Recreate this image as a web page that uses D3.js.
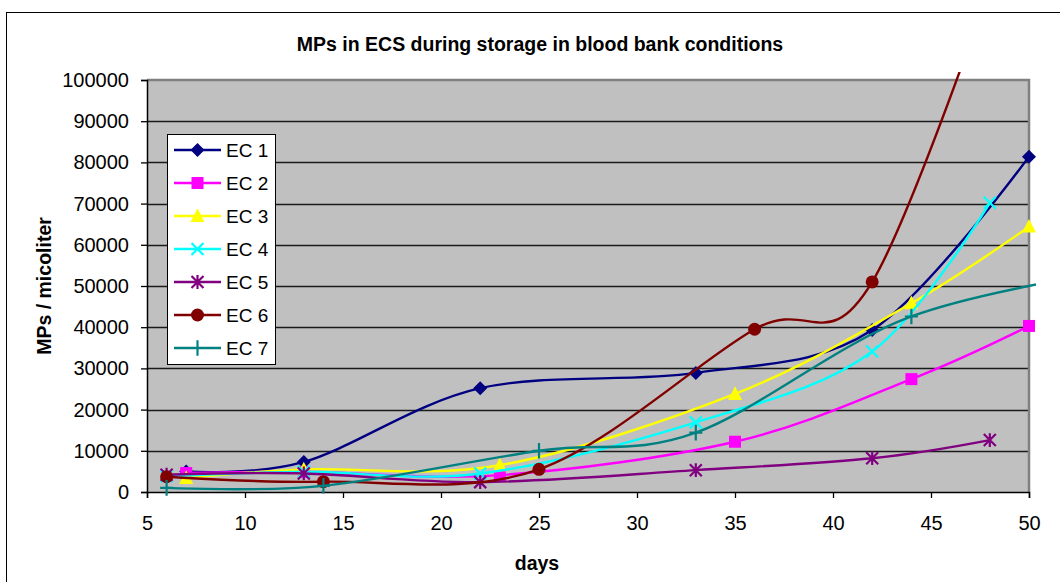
<!DOCTYPE html>
<html>
<head>
<meta charset="utf-8">
<script src="https://cdn.jsdelivr.net/npm/d3@7"></script>
<style>
  html, body { margin: 0; padding: 0; background: #fff; }
  svg { display: block; font-family: "Liberation Sans", Arial, sans-serif; }
</style>
</head>
<body>
<svg id="chart" width="1060" height="582"></svg>
<script>
// Series data: storage day and microparticle count per microliter
const seriesNames = ["EC 1", "EC 2", "EC 3", "EC 4", "EC 5", "EC 6", "EC 7"];
const ec1Days = [7, 13, 22, 33, 42, 50];
const ec1Values = [5000, 7300, 25200, 28900, 39300, 81400];
const ec2Days = [7, 13, 23, 35, 44, 50];
const ec2Values = [4600, 4900, 4100, 12200, 27400, 40300];
const ec3Days = [7, 13, 23, 35, 44, 50];
const ec3Values = [3400, 5500, 6500, 23800, 45800, 64400];
const ec4Days = [6, 13, 22, 33, 42, 48];
const ec4Values = [3800, 4900, 4500, 16900, 34100, 70200];
const ec5Days = [6, 13, 22, 33, 42, 48];
const ec5Values = [4200, 4500, 2400, 5300, 8200, 12600];
const ec6Days = [6, 14, 25, 36, 42, 50];
const ec6Values = [3700, 2500, 5500, 39500, 51000, 150000];
const ec7Days = [6, 14, 25, 33, 44, 56];
const ec7Values = [1000, 1500, 10000, 14400, 42600, 55000];

const xTicks = [5, 10, 15, 20, 25, 30, 35, 40, 45, 50];
const yTicks = [0, 10000, 20000, 30000, 40000, 50000, 60000, 70000, 80000, 90000, 100000];

const colors = ["#000080", "#FF00FF", "#FFFF00", "#00FFFF", "#800080", "#800000", "#008080"];
const markers = ["diamond", "square", "triangle", "cross", "star", "circle", "plus"];

const allDays = [ec1Days, ec2Days, ec3Days, ec4Days, ec5Days, ec6Days, ec7Days];
const allValues = [ec1Values, ec2Values, ec3Values, ec4Values, ec5Values, ec6Values, ec7Values];
const series = seriesNames.map((name, i) => ({
  name, color: colors[i], marker: markers[i],
  points: allDays[i].map((d, j) => ({ day: d, value: allValues[i][j] }))
}));

const svg = d3.select("#chart");
const plot = { left: 147, right: 1029, top: 80, bottom: 492 };

const x = d3.scaleLinear().domain([5, 50]).range([plot.left, plot.right]);
const y = d3.scaleLinear().domain([0, 100000]).range([plot.bottom, plot.top]);

// Outer chart frame
svg.append("rect")
  .attr("x", 6.5).attr("y", 12.5)
  .attr("width", 1100).attr("height", 600)
  .attr("fill", "#fff").attr("stroke", "#000").attr("stroke-width", 1);

// Title
svg.append("text")
  .attr("x", 540).attr("y", 51)
  .attr("text-anchor", "middle")
  .attr("font-size", 19.5).attr("font-weight", "bold")
  .text("MPs in ECS during storage in blood bank conditions");

// Plot background
svg.append("rect")
  .attr("x", plot.left).attr("y", plot.top)
  .attr("width", plot.right - plot.left).attr("height", plot.bottom - plot.top)
  .attr("fill", "#C0C0C0");

// Horizontal gridlines
svg.append("g").selectAll("line")
  .data(yTicks.filter(t => t > 0 && t < 100000))
  .join("line")
  .attr("x1", plot.left).attr("x2", plot.right)
  .attr("y1", d => Math.round(y(d)) + 0.5).attr("y2", d => Math.round(y(d)) + 0.5)
  .attr("stroke", "#1a1a1a").attr("stroke-width", 1.3);

// Plot border (top and right)
svg.append("path")
  .attr("d", `M${plot.left},${plot.top} H${plot.right} V${plot.bottom}`)
  .attr("fill", "none").attr("stroke", "#808080").attr("stroke-width", 2.5);

// Y axis
const yAxis = d3.axisLeft(y).tickValues(yTicks).tickFormat(d3.format("d"))
  .tickSize(6).tickPadding(12);
const gy = svg.append("g").attr("transform", `translate(${plot.left},0)`).call(yAxis);
gy.select(".domain").attr("stroke", "#000").attr("stroke-width", 1.5);
gy.selectAll(".tick line").attr("stroke", "#000").attr("stroke-width", 1.3);
gy.selectAll(".tick text").attr("font-size", 20).attr("fill", "#000")
  .attr("font-family", "'Liberation Sans', Arial, sans-serif");

// X axis
const xAxis = d3.axisBottom(x).tickValues(xTicks).tickFormat(d3.format("d"))
  .tickSize(6).tickPadding(18);
const gx = svg.append("g").attr("transform", `translate(0,${plot.bottom})`).call(xAxis);
gx.select(".domain").attr("stroke", "#000").attr("stroke-width", 1.5);
gx.selectAll(".tick line").attr("stroke", "#000").attr("stroke-width", 1.3);
gx.selectAll(".tick text").attr("font-size", 20).attr("fill", "#000")
  .attr("font-family", "'Liberation Sans', Arial, sans-serif");

// Axis titles
svg.append("text")
  .attr("x", 537).attr("y", 570)
  .attr("text-anchor", "middle")
  .attr("font-size", 19.5).attr("font-weight", "bold")
  .text("days");
svg.append("text")
  .attr("transform", "translate(51,286) rotate(-90)")
  .attr("text-anchor", "middle")
  .attr("font-size", 19.5).attr("font-weight", "bold")
  .text("MPs / micoliter");

// Clip region for the series (lines may run a few pixels past the plot)
svg.append("defs").append("clipPath").attr("id", "plotClip")
  .append("rect")
  .attr("x", plot.left - 7).attr("y", plot.top - 8)
  .attr("width", plot.right - plot.left + 14).attr("height", plot.bottom - plot.top + 16);

// Marker shapes
function markerPath(type, s) {
  switch (type) {
    case "diamond": return `M0,${-s}L${s},0L0,${s}L${-s},0Z`;
    case "square": return `M${-s},${-s}H${s}V${s}H${-s}Z`;
    case "triangle": return `M0,${-s * 1.1}L${s},${s * 0.85}H${-s}Z`;
    case "cross": return `M${-s},${-s}L${s},${s}M${-s},${s}L${s},${-s}`;
    case "star": return `M${-s},${-s}L${s},${s}M${-s},${s}L${s},${-s}M0,${-s * 1.15}V${s * 1.15}`;
    case "plus": return `M${-s},0H${s}M0,${-s * 1.2}V${s * 1.2}`;
    default: return "";
  }
}
const markerSize = { diamond: 7, square: 6, triangle: 7, cross: 6, star: 6, circle: 6.5, plus: 6.5 };
const filled = { diamond: true, square: true, triangle: true, circle: true, cross: false, star: false, plus: false };

function drawMarker(g, type, color, cx, cy, scale = 1) {
  const s = markerSize[type] * scale;
  if (type === "circle") {
    g.append("circle").attr("cx", cx).attr("cy", cy).attr("r", s).attr("fill", color);
  } else if (filled[type]) {
    g.append("path").attr("transform", `translate(${cx},${cy})`)
      .attr("d", markerPath(type, s)).attr("fill", color);
  } else {
    g.append("path").attr("transform", `translate(${cx},${cy})`)
      .attr("d", markerPath(type, s)).attr("fill", "none")
      .attr("stroke", color).attr("stroke-width", 2.2);
  }
}

const line = d3.line()
  .x(d => x(d.day)).y(d => y(d.value))
  .curve(d3.curveCardinal.tension(0));

const seriesLayer = svg.append("g").attr("clip-path", "url(#plotClip)");
series.forEach(s => {
  const g = seriesLayer.append("g");
  g.append("path").datum(s.points)
    .attr("d", line)
    .attr("fill", "none").attr("stroke", s.color).attr("stroke-width", 2.4);
  s.points.forEach(p => drawMarker(g, s.marker, s.color, x(p.day), y(p.value)));
});

// Legend
const legend = { x: 167.5, y: 134.5, w: 108, h: 230, row: 33 };
svg.append("rect")
  .attr("x", legend.x).attr("y", legend.y)
  .attr("width", legend.w).attr("height", legend.h)
  .attr("fill", "#fff").attr("stroke", "#000").attr("stroke-width", 1);
series.forEach((s, i) => {
  const g = svg.append("g");
  const cy = 150 + i * legend.row;
  g.append("line").attr("x1", 174).attr("x2", 221).attr("y1", cy).attr("y2", cy)
    .attr("stroke", s.color).attr("stroke-width", 2.4);
  drawMarker(g, s.marker, s.color, 197.5, cy);
  g.append("text").attr("x", 226).attr("y", cy + 7)
    .attr("font-size", 19).text(s.name);
});
</script>
</body>
</html>
